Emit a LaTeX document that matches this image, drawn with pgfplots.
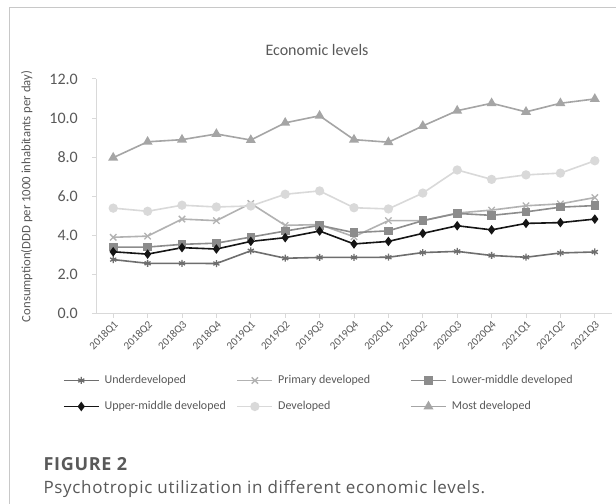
\documentclass[border=0pt]{standalone}
\usepackage{fontspec}
\setmainfont{Carlito}
\newfontfamily\capfont[LetterSpace=4]{Open Sans}
\usepackage{pgfplots}
\pgfplotsset{compat=1.18}

\definecolor{txt}{HTML}{595959}
\definecolor{axc}{HTML}{D9D9D9}
\definecolor{framec}{HTML}{C8C8C8}
\definecolor{cUnder}{HTML}{6E6E6E}
\definecolor{cPrim}{HTML}{B2B2B2}
\definecolor{cLow}{HTML}{8C8C8C}
\definecolor{cUpp}{HTML}{151515}
\definecolor{cDev}{HTML}{D9D9D9}
\definecolor{cMost}{HTML}{A5A5A5}

% quarter index, consumption (DDD per 1000 inhabitants per day)
\pgfplotstableread{
q under prim low upp dev most
0  2.77 3.91 3.41 3.17 5.40 7.98
1  2.58 3.97 3.41 3.05 5.24 8.79
2  2.58 4.84 3.55 3.38 5.55 8.90
3  2.57 4.76 3.61 3.31 5.46 9.19
4  3.22 5.64 3.92 3.70 5.51 8.88
5  2.84 4.52 4.23 3.89 6.11 9.76
6  2.88 4.56 4.52 4.23 6.28 10.12
7  2.88 3.94 4.15 3.57 5.42 8.90
8  2.89 4.76 4.24 3.70 5.36 8.77
9  3.13 4.76 4.76 4.11 6.17 9.60
10 3.19 5.15 5.13 4.50 7.35 10.38
11 2.98 5.30 5.03 4.29 6.87 10.76
12 2.89 5.52 5.21 4.62 7.10 10.32
13 3.11 5.62 5.45 4.66 7.19 10.76
14 3.16 5.94 5.53 4.84 7.82 10.98
}\econ

\begin{document}
\begin{tikzpicture}
\useasboundingbox (0,0) rectangle (616bp,504bp);
\fill[white] (0,0) rectangle (616bp,504bp);
\draw[framec, line width=1bp] (9bp,0) -- (9bp,496bp) -- (616bp,496bp);
\node[text=txt, font=\fontsize{16bp}{19bp}\selectfont] at (317bp,454bp) {Economic levels};

\begin{axis}[
  at={(96bp,190.2bp)}, anchor=south west,
  width=516bp, height=234.8bp, scale only axis,
  xmin=-0.5, xmax=14.5, ymin=0, ymax=12,
  axis lines*=left,
  axis line style={axc, line width=1bp, -},
  xtick=data,
  xticklabels={2018Q1,2018Q2,2018Q3,2018Q4,2019Q1,2019Q2,2019Q3,2019Q4,2020Q1,2020Q2,2020Q3,2020Q4,2021Q1,2021Q2,2021Q3},
  ytick={0,2,...,12},
  yticklabel={\pgfmathprintnumber[fixed,fixed zerofill,precision=1]{\tick}},
  /pgf/number format/assume math mode=true,
  tick style={axc, line width=1bp},
  tick align=outside,
  major tick length=4bp,
  xticklabel style={rotate=45, anchor=north east, inner sep=1.5bp, text=txt, font=\fontsize{11bp}{13bp}\selectfont},
  yticklabel style={text=txt, font=\fontsize{16bp}{19bp}\selectfont, inner sep=0pt, xshift=-14bp},
  ylabel={Consumption(DDD per 1000 inhabitants per day)},
  ylabel style={at={(axis description cs:-0.134,0.5)}, anchor=center, text=txt, font=\fontsize{12.7bp}{15bp}\selectfont},
  every axis plot/.append style={line width=1.6bp},
  legend columns=3,
  legend cell align=left,
  legend style={at={(-0.064,-0.2585)}, anchor=north west, draw=none, fill=none,
    inner sep=0pt, outer sep=0pt, row sep=14bp, column sep=0pt,
    nodes={inner sep=0pt, text height=9bp, text depth=3bp, text=txt},
    font=\fontsize{12bp}{14bp}\selectfont},
  legend image code/.code={\draw[mark repeat=2,mark phase=2,#1] plot coordinates {(0bp,0bp) (17.5bp,0bp) (35bp,0bp)};},
]
\addplot[cUnder, mark=asterisk, mark size=3.5bp, mark options={line width=1.3bp}] table[x=q,y=under] {\econ};
\addlegendentry{\makebox[137bp][l]{\kern5bp Underdeveloped}}
\addplot[cPrim, mark=x, mark size=4.5bp, mark options={line width=1.3bp}] table[x=q,y=prim] {\econ};
\addlegendentry{\makebox[137bp][l]{\kern5bp Primary developed}}
\addplot[cLow, mark=square*, mark size=3.5bp] table[x=q,y=low] {\econ};
\addlegendentry{\makebox[137bp][l]{\kern5bp Lower-middle developed}}
\addplot[cUpp, mark=diamond*, mark size=3.5bp] table[x=q,y=upp] {\econ};
\addlegendentry{\makebox[137bp][l]{\kern5bp Upper-middle developed}}
\addplot[cDev, mark=*, mark size=3.8bp] table[x=q,y=dev] {\econ};
\addlegendentry{\makebox[137bp][l]{\kern5bp Developed}}
\addplot[cMost, mark=triangle*, mark size=4.2bp] table[x=q,y=most] {\econ};
\addlegendentry{\makebox[137bp][l]{\kern5bp Most developed}}
\end{axis}

\node[anchor=base west, text=txt, font=\capfont\bfseries\fontsize{18bp}{21bp}\selectfont] at (40bp,34bp) {FIGURE 2};
\node[anchor=base west, text=txt, font=\capfont\fontsize{17bp}{20bp}\selectfont] at (40bp,11bp) {Psychotropic utilization in different economic levels.};
\end{tikzpicture}
\end{document}
